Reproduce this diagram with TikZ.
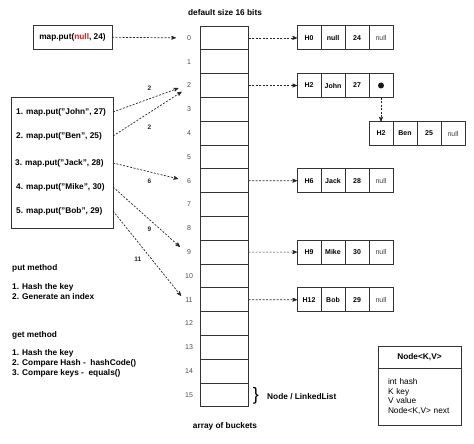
\documentclass[tikz,border=0pt]{standalone}
\usepackage{fontspec}
\setmainfont{Liberation Sans}
\usepackage{tikz}
\usetikzlibrary{arrows}
\usetikzlibrary{positioning}
\definecolor{nullred}{RGB}{220,25,25}
\tikzset{
    bucket/.style={
           rectangle,
           draw=black!80, line width=0.8pt,
           minimum width=48pt,
           minimum height=23.8pt,
           inner sep=0pt, outer sep=0pt,
           },
    idx/.style={font=\fontsize{7}{8}\selectfont, text=black!70, inner sep=1pt},
    cell/.style={
           rectangle,
           draw=black!80, line width=0.8pt,
           minimum width=24pt,
           minimum height=24pt,
           inner sep=0pt, outer sep=0pt,
           font=\bfseries\fontsize{7}{8}\selectfont,
           },
    nullcell/.style={cell, font=\fontsize{7}{8}\selectfont, text=black!75},
    box/.style={rectangle, draw=black!80, line width=0.8pt, inner sep=0pt, outer sep=0pt},
    link/.style={->, line width=0.7pt, dash pattern=on 2pt off 1.5pt, black!85},
    lbl/.style={font=\bfseries\fontsize{6.5}{7}\selectfont, inner sep=1pt},
    txt/.style={font=\bfseries\fontsize{8.3}{10}\selectfont, inner sep=0pt, anchor=west, align=left},
}

\begin{document}
\begin{tikzpicture}[x=1pt,y=-1pt,>=stealth']
 \useasboundingbox (0,0) rectangle (474,444);

 % array of buckets with index numbers
 \node[txt, anchor=center] (title) at (225,13) {default size 16 bits};
 \foreach \i in {0,...,15} {
   \node[bucket] (b\i) at (224.5,{37.9+23.8*\i}) {};
   \node[idx] (i\i) at (189,{37.9+23.8*\i}) {\i};
 }
 \node[txt, anchor=center] (caption) at (225,426) {array of buckets};

 % put with null key
 \node[box, minimum width=79pt, minimum height=24pt,
 font=\bfseries\fontsize{8.3}{10}\selectfont] (PUTNULL) at (72.5,37)
 {map.put(\textcolor{nullred}{null}, 24)};

 % box with the five puts
 \node[box, minimum width=102pt, minimum height=131pt] (PUTS) at (62,162.5) {};
 \node[txt] (p1) at (16,112) {1. map.put("John", 27)};
 \node[txt] (p2) at (16,136) {2. map.put("Ben", 25)};
 \node[txt] (p3) at (15,163) {3. map.put("Jack", 28)};
 \node[txt] (p4) at (16,187) {4. map.put("Mike", 30)};
 \node[txt] (p5) at (16,211) {5. map.put("Bob", 29)};

 % notes on the left
 \node[txt] (putm) at (12,268) {put method};
 \node[txt] (putsteps) at (12,292) {1. Hash the key\\2. Generate an index};
 \node[txt] (getm) at (12,335) {get method};
 \node[txt] (getsteps) at (12,363)
 {1. Hash the key\\2. Compare Hash -~ hashCode()\\3. Compare keys -~ equals()};

 % linked list nodes: hash, key, value, next
 \node[cell] (h0a) at (309,37.9) {H0};
 \node[cell, right=0pt of h0a] (h0b) {null};
 \node[cell, right=0pt of h0b] (h0c) {24};
 \node[nullcell, right=0pt of h0c] (h0d) {null};

 \node[cell] (j1) at (309,85.5) {H2};
 \node[cell, right=0pt of j1] (j2) {John};
 \node[cell, right=0pt of j2] (j3) {27};
 \node[cell, right=0pt of j3] (j4) {};
 \fill[black!90] (j4.center) circle (3pt);

 \node[cell, below=24pt of j4] (n1) {H2};
 \node[cell, right=0pt of n1] (n2) {Ben};
 \node[cell, right=0pt of n2] (n3) {25};
 \node[nullcell, right=0pt of n3] (n4) {null};

 \node[cell] (k1) at (309,180.7) {H6};
 \node[cell, right=0pt of k1] (k2) {Jack};
 \node[cell, right=0pt of k2] (k3) {28};
 \node[nullcell, right=0pt of k3] (k4) {null};

 \node[cell] (m1) at (309,252.1) {H9};
 \node[cell, right=0pt of m1] (m2) {Mike};
 \node[cell, right=0pt of m2] (m3) {30};
 \node[nullcell, right=0pt of m3] (m4) {null};

 \node[cell] (o1) at (309,299.7) {H12};
 \node[cell, right=0pt of o1] (o2) {Bob};
 \node[cell, right=0pt of o2] (o3) {29};
 \node[nullcell, right=0pt of o3] (o4) {null};

 % brace and legend
 \node[inner sep=0pt, font=\fontsize{18}{18}\selectfont] (brace) at (256,396) {\}};
 \node[txt] (ll) at (267,397) {Node / LinkedList};

 \node[box, minimum width=83pt, minimum height=22pt,
 font=\bfseries\fontsize{8.3}{10}\selectfont] (KVHEAD) at (419.5,357) {Node<K,V>};
 \node[box, below=0pt of KVHEAD, minimum height=57pt,
 text width=63pt, inner xsep=10pt, align=left,
 font=\fontsize{8.3}{9.7}\selectfont] (KVBODY)
 {int hash\\K key\\V value\\Node<K,V> next};

 % the paths from the puts to the buckets
 \draw[link, shorten >=10pt] (PUTNULL) -- (i0.west);
 \draw[link, shorten >=8pt] (PUTS.east |- p1) -- (i2.west)
                  node[lbl, midway, above=7pt] {2};
 \draw[link, shorten >=5pt] (PUTS.east |- p2) -- (i2.south west)
                  node[lbl, midway, below=11pt] {2};
 \draw[link, shorten >=8pt] (PUTS.east |- p3) -- (i6.west)
                  node[lbl, midway, below=6pt] {6};
 \draw[link, shorten >=8pt] (PUTS.east |- p4) -- (i9.west)
                  node[lbl, midway, below=6pt] {9};
 \draw[link, shorten >=5pt] (PUTS.east |- p5) -- (i11.west)
                  node[lbl, pos=0.35, below=14pt] {11};

 % buckets to their lists
 \draw[link] (b0.east)  -- (h0a.west);
 \draw[link] (b2.east)  -- (j1.west);
 \draw[link] (j4.south) -- (n1.north);
 \draw[link] (b6.east)  -- (k1.west);
 \draw[link] (b9.east)  -- (m1.west);
 \draw[link] (b11.east) -- (o1.west);
\end{tikzpicture}
\end{document}
